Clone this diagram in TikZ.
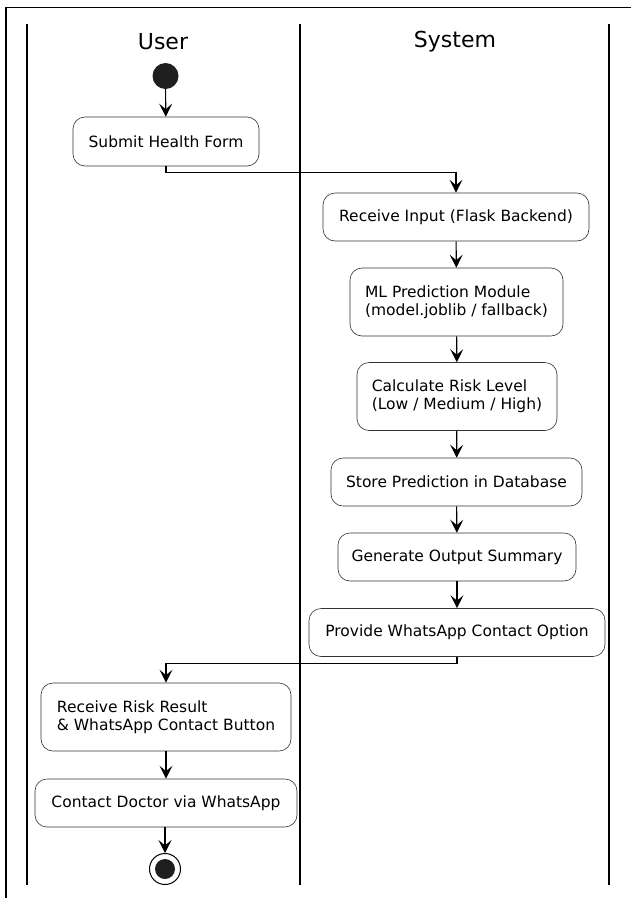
\documentclass[tikz,border=0pt]{standalone}
\usepackage{fontspec}
\setmainfont{DejaVu Sans}
\usetikzlibrary{arrows.meta}
\begin{document}
\begin{tikzpicture}[x=1pt,y=-1pt,
  act/.style={draw=black!80, line width=0.6pt, rounded corners=12pt, fill=white,
    font=\fontsize{15.5}{18.3}\selectfont, align=left, inner xsep=0pt, inner ysep=0pt, minimum height=48pt},
  arr/.style={line width=1.1pt, -{Stealth[length=13pt,width=13pt,inset=5.5pt]}},
  lane/.style={line width=1.6pt},
  title/.style={font=\fontsize{22}{26}\selectfont}]
\useasboundingbox (0,0) rectangle (630,898);
\draw[line width=1.6pt] (6,7.5) rectangle (660,930);
\draw[lane] (27,24) -- (27,885);
\draw[lane] (300,24) -- (300,885);
\draw[lane] (609,24) -- (609,885);
\node[title] (tuser) at (163,42) {User};
\node[title] (tsys) at (455,42) {System};
\node[circle, fill=black!88, minimum size=26pt, inner sep=0pt] (start) at (165.5,76) {};
\node[act, minimum width=186pt, minimum height=49pt] (submit) at (166,141.5) {Submit Health Form};
\node[act, minimum width=266pt] (recv) at (456,217) {Receive Input (Flask Backend)};
\node[act, minimum width=213pt, minimum height=68pt] (ml) at (456.5,302) {ML Prediction Module\\(model.joblib / fallback)};
\node[act, minimum width=200pt, minimum height=68pt] (calc) at (457,396.5) {Calculate Risk Level\\(Low / Medium / High)};
\node[act, minimum width=251pt] (store) at (456.5,482) {Store Prediction in Database};
\node[act, minimum width=238pt] (gen) at (457,557) {Generate Output Summary};
\node[act, minimum width=296pt] (prov) at (457,632.5) {Provide WhatsApp Contact Option};
\node[act, minimum width=250pt, minimum height=68pt] (rres) at (166,717) {Receive Risk Result\\\& WhatsApp Contact Button};
\node[act, minimum width=262pt, minimum height=48pt] (contact) at (166,803) {Contact Doctor via WhatsApp};
\node[circle, draw=black, line width=1pt, fill=white, minimum size=31pt, inner sep=0pt] (end) at (165,869) {};
\node[circle, fill=black!88, minimum size=20pt, inner sep=0pt] (endin) at (end) {};
\draw[arr] (start) -- (submit);
\draw[arr] (submit.south) -- ++(0,6) -| (recv.north);
\draw[arr] (recv) -- (ml);
\draw[arr] (ml) -- (calc);
\draw[arr] (calc) -- (store);
\draw[arr] (store) -- (gen);
\draw[arr] (gen) -- (prov);
\draw[arr] (prov.south) -- ++(0,7) -| (rres.north);
\draw[arr] (rres.south) -- (rres.south |- contact.north);
\draw[arr] (contact.south -| end) -- (end);
\end{tikzpicture}
\end{document}
